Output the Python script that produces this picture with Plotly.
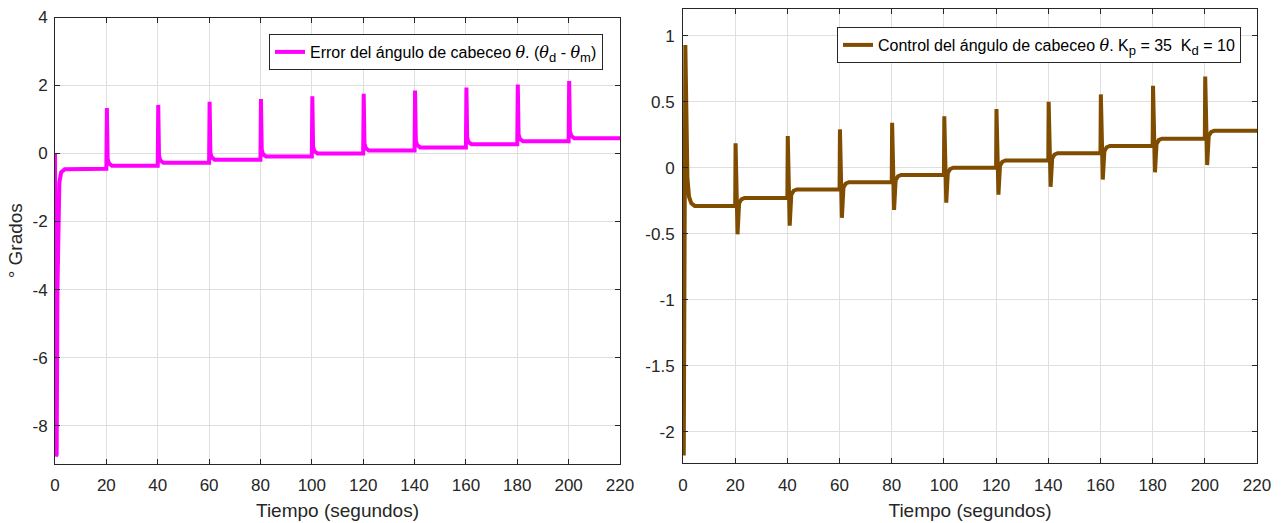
import plotly.graph_objects as go

# ---- data -------------------------------------------------------------
step_times = [20, 40, 60, 80, 100, 120, 140, 160, 180, 200]
t_end = 220

# error del ángulo de cabeceo (theta_d - theta_m), grados
err_start_t = [0, 0.35, 0.65, 0.95, 1.25, 1.7, 2.4, 3.8]
err_start_y = [0, -8.9, -8.85, -4.0, -1.6, -0.85, -0.55, -0.46]
err_levels = [-0.45, -0.36, -0.27, -0.18, -0.09, 0.0, 0.09, 0.18, 0.27, 0.36, 0.45]
err_peaks = [1.34, 1.43, 1.52, 1.60, 1.68, 1.76, 1.85, 1.94, 2.03, 2.13]

# señal de control del ángulo de cabeceo
ctrl_start_t = [0, 0.3, 0.9, 1.7, 2.3, 3.2, 4.5]
ctrl_start_y = [0, -2.18, 0.93, -0.08, -0.22, -0.27, -0.29]
ctrl_levels = [-0.29, -0.23, -0.165, -0.11, -0.055, 0.0, 0.055, 0.11, 0.165, 0.22, 0.28]
ctrl_peaks = [0.185, 0.24, 0.29, 0.34, 0.39, 0.445, 0.50, 0.555, 0.62, 0.69]
ctrl_dips = [-0.505, -0.44, -0.38, -0.32, -0.265, -0.205, -0.145, -0.09, -0.035, 0.02]

x_ticks = [0, 20, 40, 60, 80, 100, 120, 140, 160, 180, 200, 220]
err_yticks = [-8, -6, -4, -2, 0, 2, 4]
ctrl_yticks = [-2, -1.5, -1, -0.5, 0, 0.5, 1]


def fmt(v):
    return f"{v:g}"


# ---- assemble the piecewise responses --------------------------------
err_t = list(err_start_t)
err_y = list(err_start_y)
for k, ts in enumerate(step_times):
    lv = err_levels[k + 1]
    err_t += [ts, ts + 0.2, ts + 0.5, ts + 1.0, ts + 2.2]
    err_y += [err_levels[k], err_peaks[k], lv + 0.2, lv + 0.07, lv]
err_t.append(t_end)
err_y.append(err_levels[-1])

ctrl_t = list(ctrl_start_t)
ctrl_y = list(ctrl_start_y)
for k, ts in enumerate(step_times):
    lv = ctrl_levels[k + 1]
    ctrl_t += [ts, ts + 0.15, ts + 0.9, ts + 1.5, ts + 2.4, ts + 3.6]
    ctrl_y += [ctrl_levels[k], ctrl_peaks[k], ctrl_dips[k], lv - 0.04, lv - 0.01, lv]
ctrl_t.append(t_end)
ctrl_y.append(ctrl_levels[-1])

W, H = 1283, 523
INK = "#262626"
GRID = "#DFDFDF"
FONT = "Liberation Sans, Arial, sans-serif"
TH = "<span style='font-family:DejaVu Serif'><i>θ</i></span>"


def sub(s):
    return f"<sub><span style='font-size:13px'>{s}</span></sub>"


fig = go.Figure()
fig.add_trace(go.Scatter(
    x=err_t, y=err_y, mode="lines",
    line=dict(color="#FF00FF", width=4),
    name=f"Error del ángulo de cabeceo {TH}. ({TH}{sub('d')} - {TH}{sub('m')})",
    xaxis="x", yaxis="y", legend="legend",
))
fig.add_trace(go.Scatter(
    x=ctrl_t, y=ctrl_y, mode="lines",
    line=dict(color="#7F4C00", width=4),
    name=f"Control del ángulo de cabeceo {TH}. K{sub('p')} = 35\u00a0 K{sub('d')} = 10",
    xaxis="x2", yaxis="y2", legend="legend2",
))

axis_common = dict(
    showline=True, linecolor=INK, linewidth=1, mirror="ticks",
    ticks="inside", ticklen=5, tickcolor=INK, tickwidth=1,
    showgrid=True, gridcolor=GRID, gridwidth=1, zeroline=False,
    tickfont=dict(family=FONT, size=17, color=INK),
    automargin=False,
)

xtxt = [fmt(v) for v in x_ticks]
title_font = dict(family=FONT, size=19, color=INK)
legend_common = dict(xanchor="right", yanchor="top", bgcolor="white",
                     bordercolor=INK, borderwidth=1,
                     font=dict(family=FONT, size=16, color="black"))

fig.update_layout(
    width=W, height=H,
    margin=dict(l=0, r=0, t=0, b=0),
    paper_bgcolor="white", plot_bgcolor="white",
    font=dict(family=FONT, color=INK),
    xaxis=dict(axis_common, domain=[55 / W, 620 / W], range=[0, t_end],
               tickvals=x_ticks, ticktext=xtxt, anchor="y",
               ticklabelstandoff=6,
               title=dict(text="Tiempo (segundos)", font=title_font, standoff=9)),
    yaxis=dict(axis_common, domain=[1 - 464 / H, 1 - 17.5 / H], range=[-9.13, 4],
               tickvals=err_yticks, ticktext=[fmt(v) for v in err_yticks], anchor="x",
               ticklabelstandoff=3,
               title=dict(text="° Grados", font=title_font, standoff=4)),
    xaxis2=dict(axis_common, domain=[683 / W, 1257 / W], range=[0, t_end],
                tickvals=x_ticks, ticktext=xtxt, anchor="y2",
                ticklabelstandoff=6,
                title=dict(text="Tiempo (segundos)", font=title_font, standoff=9)),
    yaxis2=dict(axis_common, domain=[1 - 463.3 / H, 1 - 9.3 / H], range=[-2.24, 1.2],
                tickvals=ctrl_yticks, ticktext=[fmt(v) for v in ctrl_yticks], anchor="x2",
                ticklabelstandoff=4),
    legend=dict(legend_common, x=603 / W, y=1 - 34 / H),
    legend2=dict(legend_common, x=1241 / W, y=1 - 27 / H),
    showlegend=True,
)

fig.write_html("out.html")
